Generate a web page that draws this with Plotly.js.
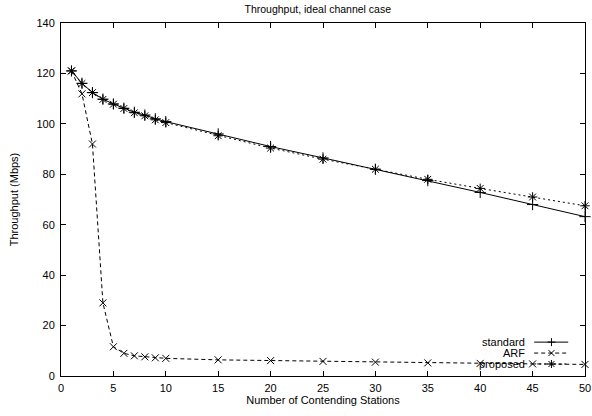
<!DOCTYPE html>
<html>
<head>
<meta charset="utf-8">
<script src="https://cdn.plot.ly/plotly-3.0.1.min.js"></script>
<style>html,body{margin:0;padding:0;background:#fff;}#chart{width:592px;height:416px;}</style>
</head>
<body>
<div id="chart"></div>
<script>
const stations = [1,2,3,4,5,6,7,8,9,10,15,20,25,30,35,40,45,50];
const standard = [121,116.1,112.4,109.8,107.9,106.2,104.6,103.5,102,100.9,96,91,86.5,82,77.5,72.8,68,63.2];
const arf      = [121,111.9,92,29,11.6,9,8,7.6,7.2,7,6.4,6.1,5.8,5.5,5.2,5.0,4.8,4.6];
const proposed = [121,116,112.4,109.7,107.8,106.1,104.4,103.2,101.6,100.5,95.3,90.4,86,82,78,74.4,71,67.5];
const seriesNames = ["standard","ARF","proposed"];
const xTicks = [0,5,10,15,20,25,30,35,40,45,50];
const yTicks = [0,20,40,60,80,100,120,140];

const FONT = "Liberation Sans, Arial, Helvetica, sans-serif";
const styles = [
  {dash:"solid", symbol:"cross-thin-open", size:8},
  {dash:"4px,3px", symbol:"x-thin-open", size:7},
  {dash:"2px,3px", symbol:"asterisk-open", size:8}
];
const ys = [standard, arf, proposed];
const traces = ys.map((y,i)=>({
  x: stations, y: y, name: seriesNames[i], type:"scatter", mode:"lines+markers",
  line:{color:"#000", width:1, dash:styles[i].dash},
  marker:{symbol:styles[i].symbol, size:styles[i].size, color:"#000", line:{color:"#000", width:1}},
  showlegend:false, cliponaxis:false
}));

// custom gnuplot-style key (text right, sample left->right)
const keyY = [0.096, 0.065, 0.034];
const annotations = [];
const shapes = [];
seriesNames.forEach((n,i)=>{
  annotations.push({xref:"paper", yref:"paper", x:0.889, y:keyY[i], xanchor:"right", yanchor:"middle",
    text:n, showarrow:false, font:{family:FONT, size:11, color:"#000"}});
  shapes.push({type:"line", xref:"paper", yref:"paper", x0:0.903, x1:0.968, y0:keyY[i], y1:keyY[i],
    line:{color:"#000", width:1, dash:styles[i].dash}});
});
const mk = [
  "M-4,0L4,0M0,-4L0,4",
  "M-3,-3L3,3M-3,3L3,-3",
  "M-4,0L4,0M0,-4L0,4M-3,-3L3,3M-3,3L3,-3"
];
mk.forEach((p,i)=>{
  shapes.push({type:"path", xref:"paper", yref:"paper", xsizemode:"pixel", ysizemode:"pixel",
    xanchor:0.936, yanchor:keyY[i], path:p, line:{color:"#000", width:1}});
});

const axisCommon = {
  showline:true, linecolor:"#000", linewidth:1, mirror:"ticks",
  ticks:"inside", ticklen:5, tickcolor:"#000", tickwidth:1,
  showgrid:false, zeroline:false, tickfont:{family:FONT, size:11, color:"#000"},
  ticklabeloverflow:"allow"
};
const layout = {
  width:592, height:416,
  margin:{l:61, r:7, t:23, b:40, pad:0},
  paper_bgcolor:"#fff", plot_bgcolor:"#fff",
  font:{family:FONT, size:11, color:"#000"},
  title:{text:"Throughput, ideal channel case", font:{family:FONT, size:10.5, color:"#000"},
    xref:"paper", x:0.49, xanchor:"center", yref:"container", y:1-9/416, yanchor:"middle"},
  xaxis:Object.assign({}, axisCommon, {range:[0,50], tickvals:xTicks, ticktext:xTicks.map(String),
    ticklabelstandoff:2,
    title:{text:"Number of Contending Stations", font:{family:FONT, size:11, color:"#000"}, standoff:3}}),
  yaxis:Object.assign({}, axisCommon, {range:[0,140], tickvals:yTicks, ticktext:yTicks.map(String),
    ticklabelstandoff:3,
    title:{text:"Throughput (Mbps)", font:{family:FONT, size:11, color:"#000"}, standoff:15}}),
  annotations:annotations, shapes:shapes, showlegend:false
};
Plotly.newPlot("chart", traces, layout, {staticPlot:true, displayModeBar:false});
</script>
</body>
</html>
